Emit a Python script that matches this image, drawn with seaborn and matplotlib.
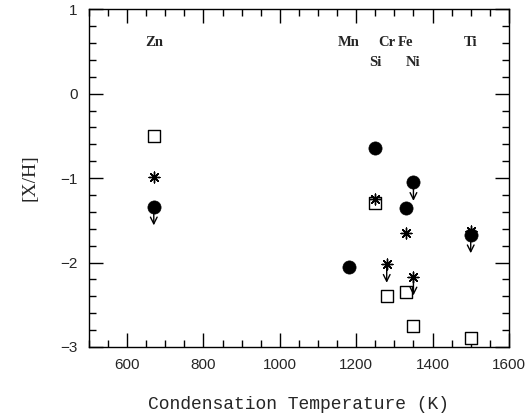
import matplotlib
matplotlib.use("Agg")
import matplotlib.pyplot as plt
import seaborn as sns
import pandas as pd
from matplotlib.ticker import MultipleLocator

# Condensation temperatures (K) and element names
elements = ["Zn", "Mn", "Si", "Cr", "Fe", "Ni", "Ti"]
tcond = [670, 1180, 1250, 1280, 1330, 1350, 1500]
label_row = [0, 0, 1, 0, 0, 1, 0]   # 0 = upper row, 1 = lower row

# Filled circles
circ_x = [670, 1180, 1250, 1330, 1350, 1500]
circ_y = [-1.34, -2.05, -0.64, -1.36, -1.05, -1.67]
circ_lim = [True, False, False, False, True, True]

# Asterisks
star_x = [670, 1180, 1250, 1280, 1330, 1350, 1500]
star_y = [-0.99, -2.05, -1.25, -2.02, -1.65, -2.17, -1.63]
star_lim = [False, False, False, True, False, True, False]

# Open squares
sq_x = [670, 1250, 1280, 1330, 1350, 1500]
sq_y = [-0.50, -1.30, -2.40, -2.35, -2.75, -2.89]
sq_lim = [False, False, False, False, False, False]

sns.set_style("ticks")
plt.rcParams["font.family"] = ["Liberation Sans", "DejaVu Sans"]

fig = plt.figure(figsize=(5.29, 4.17), dpi=100)
ax = fig.add_axes([0.168, 0.168, 0.794, 0.810])

circ = pd.DataFrame({"T": circ_x, "XH": circ_y})
star = pd.DataFrame({"T": star_x, "XH": star_y})
sq = pd.DataFrame({"T": sq_x, "XH": sq_y})

sns.scatterplot(data=sq, x="T", y="XH", ax=ax, marker="s", s=70,
                facecolor="white", edgecolor="black", linewidth=1.0, zorder=2)
sns.scatterplot(data=star, x="T", y="XH", ax=ax, marker=(8, 2, 0), s=60,
                color="black", edgecolor="black", linewidth=1.0, zorder=3)
sns.scatterplot(data=circ, x="T", y="XH", ax=ax, marker="o", s=90,
                color="black", edgecolor="black", linewidth=0.5, zorder=4)

# Upper-limit arrows
for xs, ys, lims in [(circ_x, circ_y, circ_lim), (star_x, star_y, star_lim),
                     (sq_x, sq_y, sq_lim)]:
    for x, y, lim in zip(xs, ys, lims):
        if lim:
            ax.annotate("", xy=(x, y - 0.22), xytext=(x, y),
                        arrowprops=dict(arrowstyle="->", color="black", lw=1.0,
                                        shrinkA=0, shrinkB=0,
                                        mutation_scale=12),
                        zorder=5)

# Element labels
for el, t, row in zip(elements, tcond, label_row):
    ax.text(t, 0.60 - 0.23 * row, el, ha="center", va="center",
            fontsize=10.5, family=["Liberation Serif", "DejaVu Serif"],
            fontweight="semibold")

ax.set_xlim(500, 1600)
ax.set_ylim(-3, 1)
ax.xaxis.set_major_locator(MultipleLocator(200))
ax.xaxis.set_minor_locator(MultipleLocator(50))
ax.yaxis.set_major_locator(MultipleLocator(1))
ax.yaxis.set_minor_locator(MultipleLocator(0.2))
ax.set_xticks([600, 800, 1000, 1200, 1400, 1600])
ax.tick_params(which="both", direction="in", top=True, right=True,
               labelsize=11, width=1.0, color="black")
ax.tick_params(which="major", length=10, pad=8)
ax.tick_params(which="minor", length=5)
for s in ax.spines.values():
    s.set_linewidth(1.0)
    s.set_color("black")

ax.set_xlabel("Condensation Temperature (K)", fontsize=13,
              family=["Liberation Mono", "DejaVu Sans Mono"], labelpad=17)
ax.set_ylabel("[X/H]", fontsize=14, family=["Liberation Serif", "DejaVu Serif"],
              labelpad=16)

fig.savefig("out.png", dpi=100)
